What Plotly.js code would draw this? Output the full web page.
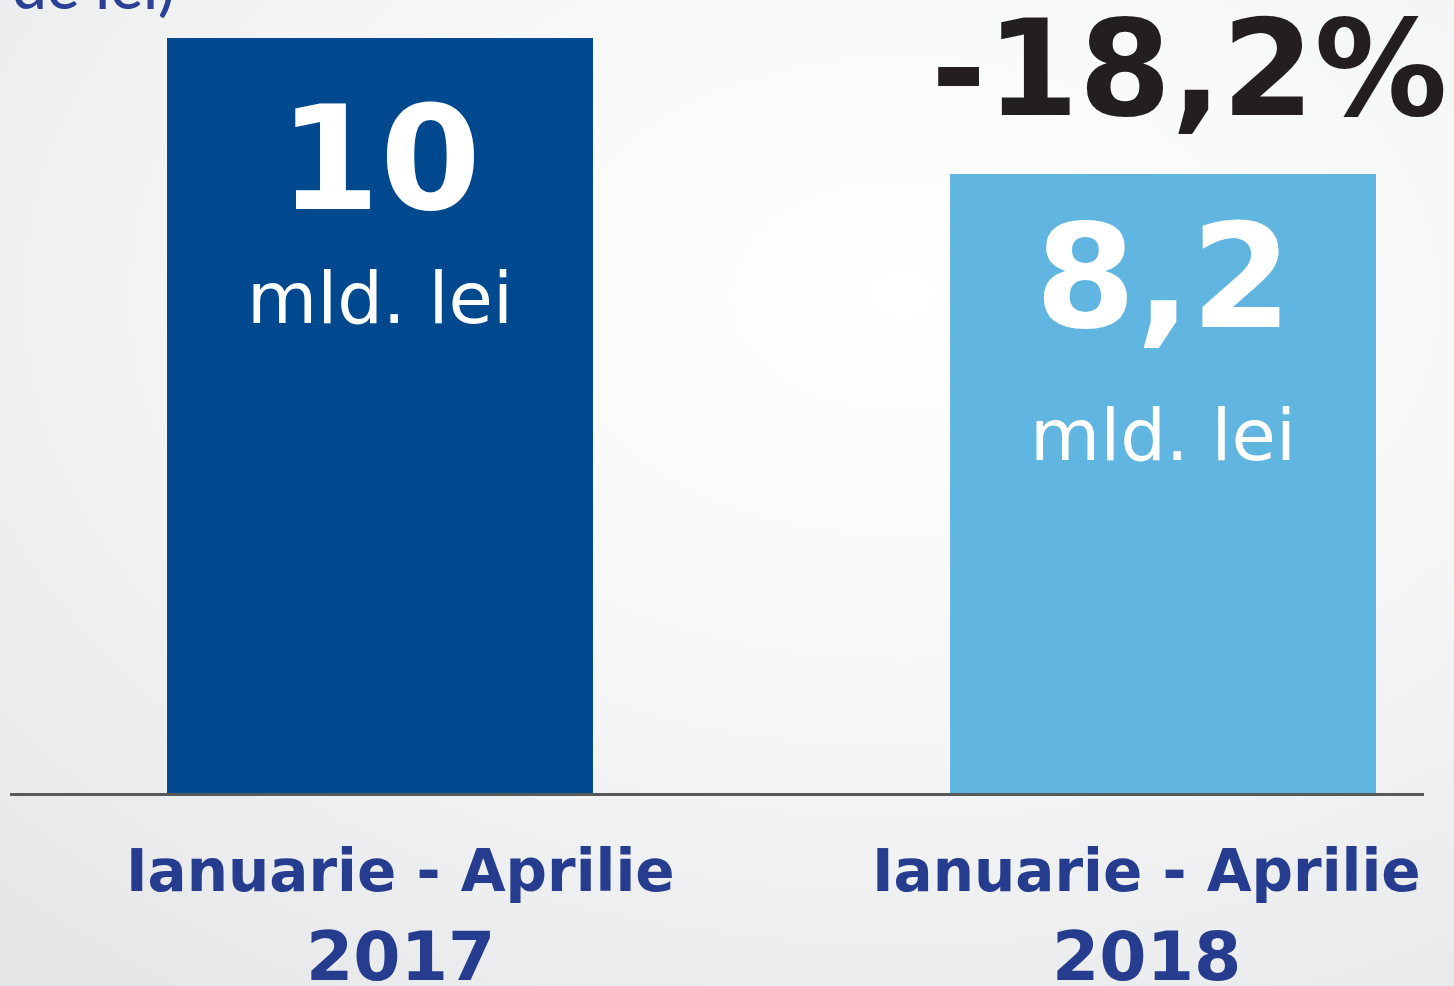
<!DOCTYPE html>
<html>
<head>
<meta charset="utf-8">
<script src="https://cdn.plot.ly/plotly-3.0.1.min.js"></script>
<style>
html,body{margin:0;padding:0;width:1454px;height:986px;overflow:hidden;
background: radial-gradient(ellipse 90% 90% at 62% 30%, #ffffff 0%, #f6f7f7 45%, #e5e6e8 100%);}
#chart{width:1454px;height:986px;}
</style>
</head>
<body>
<div id="chart"></div>
<script>
const periods = ["Ianuarie - Aprilie", "Ianuarie - Aprilie"];
const years = ["2017", "2018"];
const values = [10, 8.2];
const valueLabels = ["10", "8,2"];
const unitLabel = "mld. lei";
const changeLabel = "-18,2%";
const barColors = ["#00498f", "#61b5e1"];

const xs = [0, 1];

const trace = {
  type: "bar",
  x: xs,
  y: values,
  width: 0.544,
  marker: {color: barColors, line: {width: 0}},
  hoverinfo: "none"
};

const BOLD = "DejaVu Sans";
const ann = [];
const labelShift = [20, -17];
const valueShift = [-34, -16];
const unitShift = [-216, -217];
xs.forEach((x, i) => {
  ann.push({x: x, y: values[i], xref: "x", yref: "y", text: "<b>" + valueLabels[i] + "</b>",
    showarrow: false, yanchor: "top", yshift: valueShift[i],
    font: {family: BOLD, size: 145, color: "#ffffff"}});
  ann.push({x: x, y: values[i], xref: "x", yref: "y", text: unitLabel,
    showarrow: false, yanchor: "top", yshift: unitShift[i],
    font: {family: "DejaVu Sans", size: 72, color: "#ffffff"}});
  ann.push({x: x, y: 0, xref: "x", yref: "y", text: "<b>" + periods[i] + "</b>",
    showarrow: false, yanchor: "top", yshift: -42, xshift: labelShift[i],
    font: {family: BOLD, size: 58, color: "#263d8f"}});
  ann.push({x: x, y: 0, xref: "x", yref: "y", text: "<b>" + years[i] + "</b>",
    showarrow: false, yanchor: "top", yshift: -122, xshift: labelShift[i],
    font: {family: BOLD, size: 68, color: "#263d8f"}});
});
ann.push({x: 1, y: values[0], xref: "x", yref: "y", text: "<b>" + changeLabel + "</b>",
  showarrow: false, xanchor: "center", yanchor: "middle", xshift: 26, yshift: -31,
  font: {family: BOLD, size: 133, color: "#231f20"}});
ann.push({x: 0, y: 1, xref: "paper", yref: "paper", text: "de lei)",
  showarrow: false, xanchor: "left", yanchor: "bottom", xshift: 10, yshift: -24,
  font: {family: "Lato", size: 62, color: "#2a3f95", weight: 500}});

const layout = {
  width: 1454, height: 986,
  margin: {l: 0, r: 0, t: 0, b: 193, pad: 0},
  paper_bgcolor: "rgba(0,0,0,0)",
  plot_bgcolor: "rgba(0,0,0,0)",
  showlegend: false,
  xaxis: {range: [-0.4853, 1.3716], showgrid: false, zeroline: false,
    showticklabels: false, ticks: "", showline: false, fixedrange: true},
  yaxis: {range: [0, 10.503], showgrid: false, zeroline: false,
    showticklabels: false, ticks: "", showline: false, fixedrange: true},
  shapes: [{type: "line", xref: "paper", yref: "paper", x0: 10/1454, x1: 1424/1454,
    y0: -0.0019, y1: -0.0019, line: {color: "#58595b", width: 3}, layer: "above"}],
  annotations: ann
};

Plotly.newPlot("chart", [trace], layout, {staticPlot: true, displayModeBar: false});
</script>
</body>
</html>
